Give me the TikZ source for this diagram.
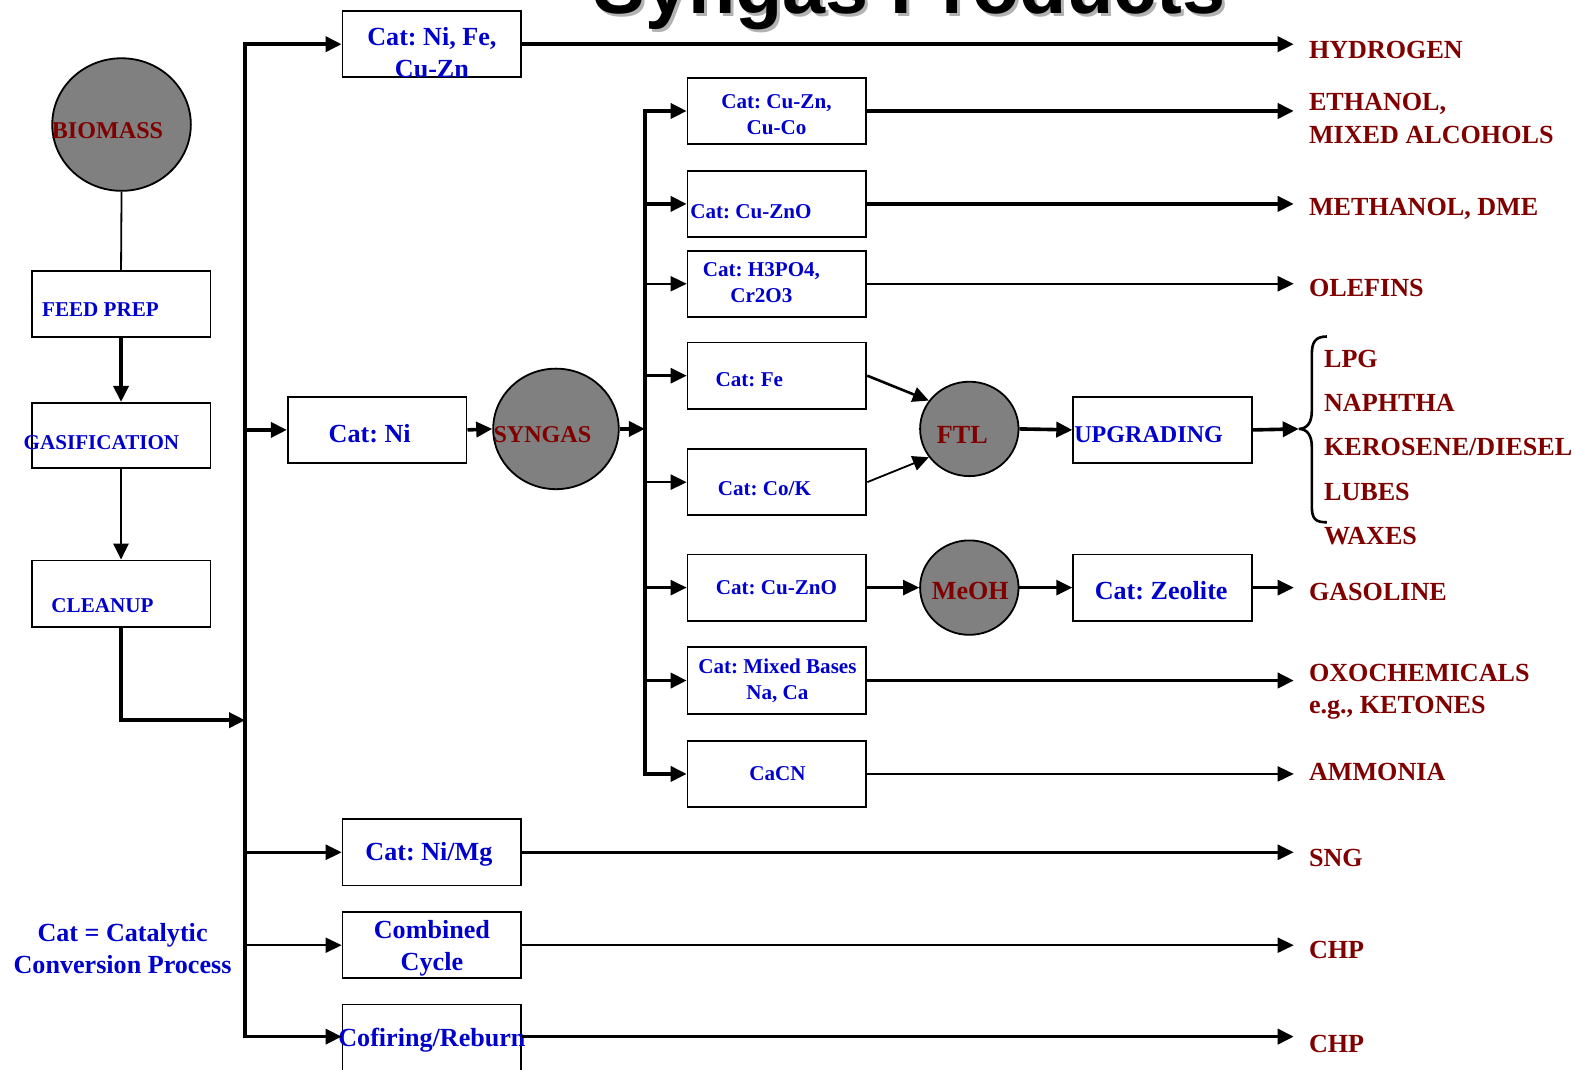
\documentclass[tikz,border=0pt]{standalone}
\usepackage{fontspec}
\setmainfont{Liberation Serif}
\newfontfamily\titlefont{Liberation Sans}
\usetikzlibrary{arrows.meta,shapes.geometric,calc}
\definecolor{bluet}{RGB}{0,0,205}
\definecolor{redt}{RGB}{128,0,0}
\definecolor{grayf}{RGB}{128,128,128}
\frenchspacing
\begin{document}
\begin{tikzpicture}[x=1pt,y=-1pt,
 box/.style={draw, line width=1.8pt, minimum width=178pt, minimum height=66pt, inner sep=0pt},
 blob/.style={draw, line width=1.8pt, ellipse, fill=grayf, inner sep=0pt},
 bsmall/.style={text=bluet, font=\fontsize{21}{26}\selectfont\bfseries, align=center, inner sep=0pt},
 bmid/.style={text=bluet, font=\fontsize{24}{28}\selectfont\bfseries, align=center, inner sep=0pt},
 blarge/.style={text=bluet, font=\fontsize{26}{32}\selectfont\bfseries, align=center, inner sep=0pt},
 rlab/.style={text=redt, font=\fontsize{26}{32}\selectfont\bfseries, align=left, inner sep=0pt, anchor=west},
 rin/.style={text=redt, font=\fontsize{24}{28}\selectfont\bfseries, inner sep=0pt},
 rinl/.style={text=redt, font=\fontsize{26}{30}\selectfont\bfseries, inner sep=0pt},
 arr/.style={-{Triangle[length=16pt,width=15pt]}},
 lthick/.style={line width=3.6pt},
 lmed/.style={line width=2.6pt},
 lthin/.style={line width=1.8pt},
 outarr/.style={arr, shorten >=15pt},
]
\useasboundingbox (0,0) rectangle (1568,1065);
\fill[white] (0,0) rectangle (1568,1065);

% title (cut off at the top, as in the reference)
\node[anchor=base west, text=black!30, font=\titlefont\bfseries\fontsize{77}{80}\selectfont, inner sep=0pt] (titlesh) at (594,16) {Syngas Products};
\node[anchor=base west, text=black, font=\titlefont\bfseries\fontsize{77}{80}\selectfont, inner sep=0pt] (title) at (591,13) {Syngas Products};

% left column
\node[blob, minimum width=138pt, minimum height=132pt] (bio) at (121,124) {};
\node[rin] (biot) at (107,130) {BIOMASS};
\node[box] (feed) at (120.5,302.5) {};
\node[bsmall] (feedt) at (100,308) {FEED PREP};
\node[box, minimum height=65pt] (gas) at (120.5,433.5) {};
\node[bsmall] (gast) at (101,441) {GASIFICATION};
\node[box] (clean) at (120.5,591) {};
\node[bsmall] (cleant) at (102,603) {CLEANUP};
\node[blarge] (legend) at (122,944) {Cat = Catalytic\\Conversion Process};

% first bus
\coordinate (A1) at (244,44);
\coordinate (A2) at (244,1032);
\coordinate (cj) at (244,717);

\node[box] (ctop) at (430,44) {};
\node[blarge] (ctopt) at (430,52) {Cat: Ni, Fe,\\Cu-Zn};
\node[box] (cni) at (375.5,428) {};
\node[blarge] (cnit) at (368,432) {Cat: Ni};
\node[blob, minimum width=125pt, minimum height=120pt] (syn) at (553.5,427) {};
\node[rin] (synt) at (540,433) {SYNGAS};
\node[box] (cnimg) at (430,848.5) {};
\node[blarge] (cnimgt) at (427,851) {Cat: Ni/Mg};
\node[box] (ccc) at (430,941) {};
\node[blarge] (ccct) at (430,944) {Combined\\Cycle};
\node[box, minimum height=80pt] (ccof) at (430,1040) {};
\node[blarge] (ccoft) at (430,1036) {Cofiring/Reburn};

% second bus boxes
\coordinate (B1) at (642,110.5);
\node[box] (c1) at (773.5,110.5) {};
\node[bsmall] (c1t) at (773,114) {Cat: Cu-Zn,\\Cu-Co};
\node[box] (c2) at (773.5,203) {};
\node[bsmall, anchor=west] (c2t) at (687,211) {Cat: Cu-ZnO};
\node[box] (c3) at (773.5,282.5) {};
\node[bsmall] (c3t) at (758,281) {Cat: H3PO4,\\Cr2O3};
\node[box] (c4) at (773.5,374) {};
\node[bsmall] (c4t) at (746,378) {Cat: Fe};
\node[box] (c5) at (773.5,480) {};
\node[bsmall] (c5t) at (761,486) {Cat: Co/K};
\node[box] (c6) at (773.5,585) {};
\node[bsmall] (c6t) at (773,585) {Cat: Cu-ZnO};
\node[box] (c7) at (773.5,677.5) {};
\node[bsmall] (c7t) at (774,678) {Cat: Mixed Bases\\Na, Ca};
\node[box] (c8) at (773.5,770.5) {};
\node[bsmall] (c8t) at (774,770) {CaCN};

% FTL and MeOH chains
\node[blob, minimum width=98pt, minimum height=94pt] (ftl) at (965,427) {};
\node[rinl] (ftlt) at (958,433) {FTL};
\node[box] (upg) at (1157.5,428) {};
\node[bmid] (upgt) at (1143.5,433) {UPGRADING};
\node[blob, minimum width=98pt, minimum height=94pt] (meoh) at (965,585) {};
\node[rinl] (meoht) at (966,588) {MeOH};
\node[box] (zeo) at (1157.5,585) {};
\node[blarge] (zeot) at (1156,588) {Cat: Zeolite};
\coordinate (btip) at (1293,427);

% product labels
\node[rlab] (hyd) at (1303,50) {HYDROGEN};
\node[rlab] (eth) at (1303,118) {ETHANOL,\\MIXED ALCOHOLS};
\node[rlab] (meth) at (1303,208) {METHANOL, DME};
\node[rlab] (olef) at (1303,287) {OLEFINS};
\node[rlab] (lpg) at (1318,357) {LPG};
\node[rlab] (naph) at (1318,401) {NAPHTHA};
\node[rlab] (kero) at (1318,445) {KEROSENE/DIESEL};
\node[rlab] (lubes) at (1318,490) {LUBES};
\node[rlab] (waxes) at (1318,534) {WAXES};
\node[rlab] (gasol) at (1303,589) {GASOLINE};
\node[rlab] (oxo) at (1303,689) {OXOCHEMICALS\\e.g., KETONES};
\node[rlab] (amm) at (1303,769) {AMMONIA};
\node[rlab] (sng) at (1303,854) {SNG};
\node[rlab] (chpa) at (1303,946) {CHP};
\node[rlab] (chpb) at (1303,1039) {CHP};

% left column connectors
\draw[lthin] (bio.south) -- (feed.north);
\draw[arr,lthick] (feed.south) -- (gas.north);
\draw[arr,lmed] (gas.south) -- (clean.north);
\draw[arr,lthick] (clean.south) |- (cj);

% first bus
\draw[lthick, line cap=rect] (A1) -- (A2);
\draw[arr,lthick] (A1) -- (ctop.west);
\draw[arr,lthick] (A1 |- cni.west) -- (cni.west);
\draw[arr,lmed] (A1 |- cnimg.west) -- (cnimg.west);
\draw[arr,lthin] (A1 |- ccc.west) -- (ccc.west);
\draw[arr,lthick] (A2) -- (A2 -| ccof.west);
\draw[arr,lthick] (cni.east) -- (syn.west);
\draw[arr,lthick] (syn.east) -- (syn.east -| B1);

% second bus
\draw[arr,lthick, line cap=rect] (B1 |- c8.west) -- (c8.west);
\draw[lthick, line cap=rect] (B1) -- (B1 |- c8.west);
\draw[arr,lthick] (B1) -- (c1.west);
\draw[arr,lthick] (B1 |- c2.west) -- (c2.west);
\draw[arr,lthin] (B1 |- c3.west) -- (c3.west);
\draw[arr,lmed] (B1 |- c4.west) -- (c4.west);
\draw[arr,lmed] (B1 |- c5.west) -- (c5.west);
\draw[arr,lmed] (B1 |- c6.west) -- (c6.west);
\draw[arr,lthick] (B1 |- c7.west) -- (c7.west);

% FTL / MeOH chains
\draw[arr,lmed] (c4.east) -- (ftl.145);
\draw[arr,lthin] (c5.east) -- (ftl.215);
\draw[arr,lthick] (ftl.east) -- (upg.west);
\draw[arr,lthick] (upg.east) -- (btip);
\draw[arr,lmed] (c6.east) -- (meoh.west);
\draw[arr,lmed] (meoh.east) -- (zeo.west);
\draw[outarr,lmed] (zeo.east) -- (zeo.east -| gasol.west);

% brace
\draw[line width=2.6pt] (1321,335) .. controls (1309,335) and (1306,341) .. (1306,353) -- (1306,409)
  .. controls (1306,421) and (1301,427) .. (btip)
  .. controls (1301,427) and (1306,433) .. (1306,445) -- (1306,504)
  .. controls (1306,516) and (1309,520) .. (1321,520);

% outputs
\draw[outarr,lthick] (ctop.east) -- (ctop.east -| hyd.west);
\draw[outarr,lthick] (c1.east) -- (c1.east -| eth.west);
\draw[outarr,lthick] (c2.east) -- (c2.east -| meth.west);
\draw[outarr,lthin] (c3.east) -- (c3.east -| olef.west);
\draw[outarr,lthick] (c7.east) -- (c7.east -| oxo.west);
\draw[outarr,lthin] (c8.east) -- (c8.east -| amm.west);
\draw[outarr,lmed] (cnimg.east) -- (cnimg.east -| sng.west);
\draw[outarr,lthin] (ccc.east) -- (ccc.east -| chpa.west);
\draw[outarr,lthick] (A2 -| ccof.east) -- (A2 -| chpb.west);
\end{tikzpicture}
\end{document}
